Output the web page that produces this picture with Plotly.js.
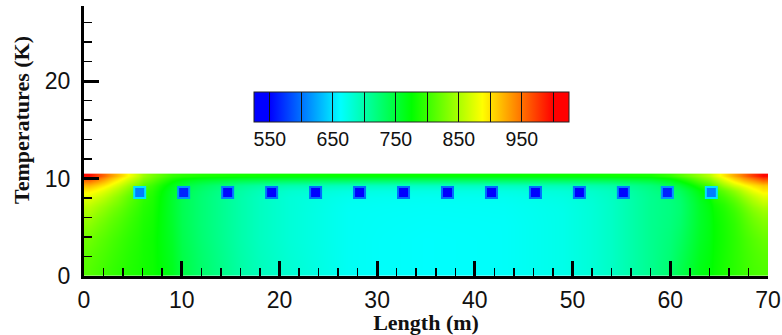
<!DOCTYPE html>
<html>
<head>
<meta charset="utf-8">
<script src="https://cdn.plot.ly/plotly-3.0.1.min.js"></script>
<style>html,body{margin:0;padding:0;background:#fff;}#chart{width:782px;height:335px;}</style>
</head>
<body>
<div id="chart"></div>
<script>
// Field grid: brick edges (m, K-axis units)
const xEdges = [0,1,2,3,4,5,6,8,10,14,18,24,30,40,46,52,56,60,62,64,65,66,67,68,69,70];
const yEdges = [0,1.5,3,4.5,6,7,7.75,8.5,9.1,9.6,10.05,10.5];

// Temperature rows (bottom to top), one value per brick column
const zRow0  = [812,806,800,795,790,786,780,762,728,702,682,667,663,665,672,688,712,740,765,778,786,793,800,806,810];
const zRow1  = [816,810,804,798,792,787,780,760,727,701,681,667,663,665,672,688,712,736,762,777,785,793,801,808,814];
const zRow2  = [824,816,809,802,795,789,780,758,725,700,680,667,663,665,672,688,712,732,759,776,784,793,803,812,820];
const zRow3  = [836,826,817,809,800,792,782,756,724,700,680,667,664,665,672,688,712,728,757,776,785,795,808,820,830];
const zRow4  = [850,838,827,817,806,796,784,755,724,700,680,667,665,666,672,688,712,726,757,778,788,800,815,830,842];
const zRow5  = [862,850,838,826,812,800,786,755,724,700,680,668,666,667,673,688,712,726,758,782,793,808,826,844,858];
const zRow6  = [876,864,850,835,818,804,788,755,724,700,680,670,668,669,675,689,712,728,762,790,803,820,840,858,874];
const zRow7  = [895,882,867,850,830,812,792,757,727,703,684,676,674,675,680,692,715,735,770,800,818,838,860,880,895];
const zRow8  = [920,905,888,868,846,826,800,765,735,712,698,692,690,691,695,703,722,752,790,818,845,868,885,900,912];
const zRow9  = [955,935,912,890,866,845,815,780,755,742,735,732,730,731,733,738,748,778,815,845,872,897,918,935,955];
const zRow10 = [995,968,940,915,888,862,828,800,788,783,780,778,778,778,779,781,785,812,840,872,898,925,950,975,998];

// Cold squares
const sqX    = [5.7,10.2,14.7,19.2,23.7,28.2,32.7,37.2,41.7,46.2,50.7,55.2,59.7,64.2];
const sqY    = [8.56,8.56,8.56,8.56,8.56,8.56,8.56,8.56,8.56,8.56,8.56,8.56,8.56,8.56];
const sqTemp = [605,565,553,548,540,535,535,535,535,540,545,552,565,605];
const sqEdge = [650,615,605,600,598,598,598,598,598,598,600,605,615,650];

// Colour bar ticks
const cbTickVals = [550,600,650,700,750,800,850,900,950,1000];
const cbTickText = ['550','','650','','750','','850','','950',''];

const zMin = 525, zMax = 1025;
const cscale = [[0,'rgb(0,0,255)'],[0.05,'rgb(0,0,255)'],[0.275,'rgb(0,255,255)'],[0.5,'rgb(0,255,0)'],[0.725,'rgb(255,255,0)'],[0.95,'rgb(255,0,0)'],[1,'rgb(255,0,0)']];

const zField = [zRow0,zRow1,zRow2,zRow3,zRow4,zRow5,zRow6,zRow7,zRow8,zRow9,zRow10];

const field = {
  type:'heatmap', x:xEdges, y:yEdges, z:zField, zsmooth:'best',
  zmin:zMin, zmax:zMax, colorscale:cscale, hoverinfo:'skip',
  colorbar:{
    orientation:'h', x:0.479, xanchor:'center', len:0.4605, lenmode:'fraction',
    y:0.681, yanchor:'top', yref:'paper', thickness:30, thicknessmode:'pixels',
    outlinewidth:1, outlinecolor:'#222', xpad:0, ypad:0, borderwidth:0,
    ticks:'inside', ticklen:30, tickwidth:1, tickcolor:'#111',
    tickmode:'array', tickvals:cbTickVals, ticktext:cbTickText,
    tickfont:{family:'Liberation Sans, Arial, sans-serif', size:19.5, color:'#111'}
  }
};

const squares = {
  type:'scatter', mode:'markers', x:sqX, y:sqY, hoverinfo:'skip', showlegend:false,
  marker:{symbol:'square', size:11, color:sqTemp, colorscale:cscale, cmin:zMin, cmax:zMax, showscale:false,
    line:{width:2, color:sqEdge, colorscale:cscale, cmin:zMin, cmax:zMax}}
};

const axFont = {family:'Liberation Sans, Arial, sans-serif', size:23, color:'#111'};
const titleFont = {family:'Liberation Serif, Times New Roman, serif', size:22, color:'#111', weight:'bold'};

const layout = {
  width:782, height:335,
  margin:{l:84, r:14, t:6, b:59},
  paper_bgcolor:'#fff', plot_bgcolor:'#fff',
  showlegend:false,
  xaxis:{
    range:[0,70], tickmode:'array', tickvals:[0,10,20,30,40,50,60,70],
    ticks:'inside', ticklen:15, tickwidth:3, tickcolor:'#000',
    showline:true, linewidth:3, linecolor:'#000', showgrid:false, zeroline:false,
    minor:{dtick:2, tick0:0, ticks:'inside', ticklen:8, tickwidth:1.5, tickcolor:'#000', showgrid:false},
    tickfont:axFont, ticklabelstandoff:1,
    title:{text:'Length (m)', font:titleFont, standoff:1}
  },
  yaxis:{
    range:[0,27.7], tickmode:'array', tickvals:[0,10,20],
    ticks:'inside', ticklen:15, tickwidth:3, tickcolor:'#000',
    showline:true, linewidth:3, linecolor:'#000', showgrid:false, zeroline:false,
    minor:{dtick:2, tick0:0, ticks:'inside', ticklen:8, tickwidth:1.5, tickcolor:'#000', showgrid:false},
    tickfont:axFont, ticklabelstandoff:6
  },
  annotations:[{
    text:'Temperatures (K)', xref:'paper', yref:'paper', x:-0.0906, y:0.578,
    xanchor:'center', yanchor:'middle', textangle:-90, showarrow:false, font:titleFont
  }]
};

Plotly.newPlot('chart', [field, squares], layout, {displayModeBar:false, staticPlot:true});
</script>
</body>
</html>
